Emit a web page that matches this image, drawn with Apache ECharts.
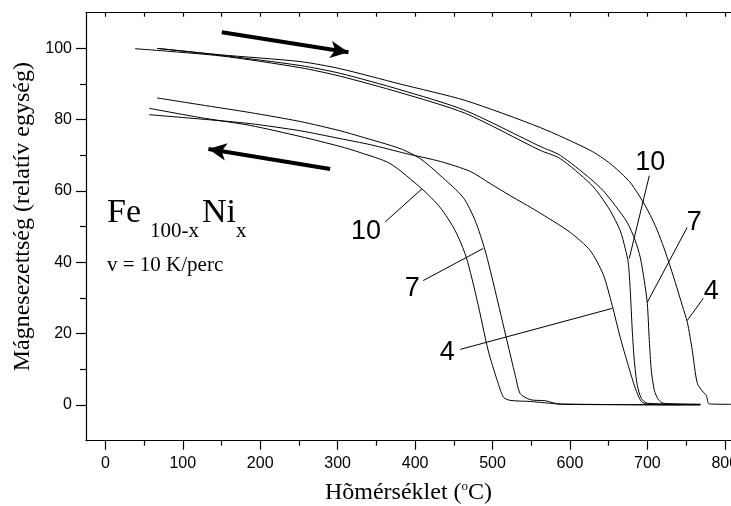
<!DOCTYPE html>
<html>
<head>
<meta charset="utf-8">
<script src="https://cdn.jsdelivr.net/npm/echarts@6.0.0/dist/echarts.min.js"></script>
<style>
    html, body { margin: 0; padding: 0; background: #fff; }
    #chart { width: 731px; height: 506px; }
</style>
</head>
<body>
<div id="chart"></div>
<script>
// [hõmérséklet °C, mágnesezettség] - fűtés
const heating4 = [[66.8, 100.0], [148.2, 98.2], [251.5, 96.3], [303.2, 94.3], [380.7, 90.0], [464.7, 85.4],
    [561.6, 77.8], [626.2, 71.4], [652.0, 67.7], [677.8, 62.4], [697.2, 55.9], [710.2, 50.3], [719.3, 45.3],
    [727.0, 40.5], [736.0, 34.4], [745.1, 27.9], [751.6, 23.2], [758.0, 15.3], [764.5, 6.1], [772.2, 3.6],
    [776.1, 2.7], [780.0, 0.3], [808, 0.2]];
const heating7 = [[66.8, 100.0], [148.2, 98.1], [251.5, 95.2], [303.2, 93.0], [380.7, 88.4], [464.7, 82.6],
    [561.6, 72.5], [587.5, 70.0], [626.2, 63.5], [643.0, 60.1], [658.5, 55.9], [674.0, 51.2], [684.4, 46.1],
    [690.8, 41.4], [696.0, 34.9], [699.9, 28.5], [702.5, 18.1], [705.1, 9.7], [709.0, 4.1], [714.1, 1.6],
    [720.6, 0.5], [768.4, 0.2]];
const heating10 = [[38.5, 99.9], [148.2, 97.9], [251.5, 94.6], [303.2, 92.2], [380.7, 87.6], [464.7, 81.8],
    [561.6, 71.4], [587.5, 69.1], [626.2, 62.1], [639.1, 58.7], [652.0, 54.5], [664.9, 48.9], [671.4, 43.9],
    [675.3, 40.0], [677.9, 32.1], [680.5, 20.9], [683.1, 12.5], [687.0, 5.5], [692.2, 1.9], [699.9, 0.5],
    [768.4, 0.2]];

// hűtés
const cooling4 = [[56.5, 81.4], [122.4, 80.2], [187.0, 78.9], [251.5, 76.9], [303.2, 74.7], [342.2, 73.0],
    [388.5, 70.5], [432.4, 68.3], [471.2, 65.5], [497.0, 62.1], [522.9, 58.7], [557.8, 54.3], [600.4, 48.4],
    [626.2, 43.3], [643.0, 36.6], [654.6, 27.9], [664.9, 19.0], [675.3, 11.1], [684.4, 4.7], [692.2, 1.0],
    [701.3, 0.2], [768.4, 0.05]];
const cooling7 = [[66.8, 86.1], [122.4, 84.2], [187.0, 82.0], [251.5, 79.5], [303.2, 76.9], [329.0, 75.3],
    [380.7, 71.9], [406.5, 69.1], [432.4, 64.4], [462.1, 58.2], [477.6, 51.7], [490.5, 43.3], [503.4, 32.1],
    [518.6, 18.1], [529.4, 8.3], [535.8, 3.2], [548.8, 1.5], [568.2, 1.2], [587.6, 0.2], [768.4, 0.05]];
const cooling10 = [[56.5, 83.2], [122.4, 80.6], [187.0, 78.4], [251.5, 75.3], [303.2, 72.5], [329.0, 70.8],
    [367.8, 67.7], [408.8, 60.6], [432.4, 55.4], [451.8, 48.9], [466.0, 41.5], [480.2, 29.3], [494.4, 15.3],
    [506.1, 6.9], [514.2, 2.2], [522.9, 1.3], [548.8, 1.0], [587.6, 0.3], [742.6, 0.05]];

const xMajorTicks = [0, 100, 200, 300, 400, 500, 600, 700, 800];
const xMinorTicks = [50, 150, 250, 350, 450, 550, 650, 750];
const xTopTicks = [0, 50, 100, 150, 200, 250, 300, 350, 400, 450, 500, 550, 600, 650, 700, 750, 800];
const yMajorTicks = [0, 20, 40, 60, 80, 100];
const yMinorTicks = [10, 30, 50, 70, 90];

// görbe feliratok: [szöveg, felirat x, y, vonal kezdete x, y, vonal vége x, y]
const curveLabels = [
    ['10', 336.7, 48.6, 361.2, 51.3, 408.8, 60.6],
    ['7', 396.2, 32.7, 410.5, 34.9, 488.0, 43.9],
    ['4', 441.5, 14.8, 458.3, 15.6, 654.6, 27.1],
    ['10', 703.7, 68.0, 702.5, 64.3, 676.6, 41.1],
    ['7', 760.6, 51.2, 751.4, 49.8, 699.9, 28.8],
    ['4', 782.4, 31.8, 772.2, 29.9, 751.5, 23.7]
];

// nyilak: [kezdet, csúcs]
const arrows = [
    [[150.4, 104.5], [314.0, 98.9]],
    [[290.3, 66.2], [133.1, 71.8]]
];

const serif = 'Liberation Serif';
const sans = 'Liberation Sans';

function curve(data) {
    return {
        type: 'line',
        data: data,
        symbol: 'none',
        smooth: 0.25,
        silent: true,
        lineStyle: {color: '#000', width: 1}
    };
}

let option = {
    animation: false,
    backgroundColor: '#fff',
    grid: {left: 86, right: 0, top: 12.7, bottom: 65.3, outerBoundsMode: 'none', containLabel: false},
    xAxis: [
        {
            type: 'value', position: 'bottom', min: -25, max: 808,
            axisLine: {onZero: false, lineStyle: {color: '#000', width: 1.2}},
            axisTick: {customValues: xMajorTicks, length: 9, lineStyle: {color: '#000', width: 1.2}},
            axisLabel: {customValues: xMajorTicks, margin: 15, color: '#000', fontSize: 16, fontFamily: sans},
            splitLine: {show: false},
            name: 'Hõmérséklet ({sup|o}C)',
            nameLocation: 'middle',
            nameGap: 39,
            nameTextStyle: {
                color: '#000', fontSize: 24, fontFamily: serif, lineHeight: 26,
                rich: {sup: {fontSize: 13, fontFamily: serif, color: '#000', verticalAlign: 'top', lineHeight: 14}}
            }
        },
        {
            type: 'value', position: 'bottom', min: -25, max: 808,
            axisLine: {show: false, onZero: false},
            axisTick: {customValues: xMinorTicks, length: 5, lineStyle: {color: '#000', width: 1.2}},
            axisLabel: {show: false},
            splitLine: {show: false}
        },
        {
            type: 'value', position: 'top', min: -25, max: 808,
            axisLine: {onZero: false, lineStyle: {color: '#000', width: 1.2}},
            axisTick: {customValues: xTopTicks, inside: true, length: 4, lineStyle: {color: '#000', width: 1.2}},
            axisLabel: {show: false},
            splitLine: {show: false}
        }
    ],
    yAxis: [
        {
            type: 'value', position: 'left', min: -10, max: 110,
            axisLine: {show: true, onZero: false, lineStyle: {color: '#000', width: 1.2}},
            axisTick: {show: true, customValues: yMajorTicks, length: 10, lineStyle: {color: '#000', width: 1.2}},
            axisLabel: {customValues: yMajorTicks, margin: 14, color: '#000', fontSize: 16, fontFamily: sans},
            splitLine: {show: false},
            name: 'Mágnesezettség (relatív egység)',
            nameLocation: 'middle',
            nameGap: 40,
            nameTextStyle: {color: '#000', fontSize: 24, fontFamily: serif, padding: [0, 0, 0, 20]}
        },
        {
            type: 'value', position: 'left', min: -10, max: 110,
            axisLine: {show: false, onZero: false},
            axisTick: {show: true, customValues: yMinorTicks, length: 6, lineStyle: {color: '#000', width: 1.2}},
            axisLabel: {show: false},
            splitLine: {show: false}
        }
    ],
    series: [
        curve(heating4), curve(heating7), curve(heating10),
        curve(cooling4), curve(cooling7), curve(cooling10),
        {
            type: 'line',
            data: [],
            silent: true,
            markLine: {
                silent: true,
                symbol: ['none', 'none'],
                label: {show: false},
                lineStyle: {color: '#000', width: 1, type: 'solid'},
                emphasis: {disabled: true},
                data: curveLabels.map(function (l) {
                    return [{coord: [l[3], l[4]]}, {coord: [l[5], l[6]]}];
                })
            },
            markPoint: {
                silent: true,
                symbol: 'circle',
                symbolSize: 1,
                itemStyle: {color: 'rgba(0,0,0,0)'},
                label: {show: true, position: 'inside', formatter: '{b}', color: '#000', fontSize: 27, fontFamily: sans},
                data: curveLabels.map(function (l) {
                    return {name: l[0], coord: [l[1], l[2]]};
                })
            }
        },
        {
            type: 'line',
            data: [],
            silent: true,
            markLine: {
                silent: true,
                symbol: ['none', 'arrow'],
                symbolSize: [13, 18],
                label: {show: false},
                lineStyle: {color: '#000', width: 4, type: 'solid'},
                itemStyle: {color: '#000'},
                emphasis: {disabled: true},
                data: arrows.map(function (a) {
                    return [{coord: a[0]}, {coord: a[1]}];
                })
            }
        }
    ],
    graphic: [
        {type: 'text', left: 107, top: 196, style: {text: 'Fe', font: '34px ' + serif, fill: '#000'}},
        {type: 'text', left: 150, top: 221, style: {text: '100-x', font: '21px ' + serif, fill: '#000'}},
        {type: 'text', left: 202, top: 196, style: {text: 'Ni', font: '34px ' + serif, fill: '#000'}},
        {type: 'text', left: 236, top: 221, style: {text: 'x', font: '21px ' + serif, fill: '#000'}},
        {type: 'text', left: 107, top: 255, style: {text: 'v = 10 K/perc', font: '21px ' + serif, fill: '#000'}}
    ]
};

let chart = echarts.init(document.getElementById('chart'));
chart.setOption(option);
</script>
</body>
</html>
